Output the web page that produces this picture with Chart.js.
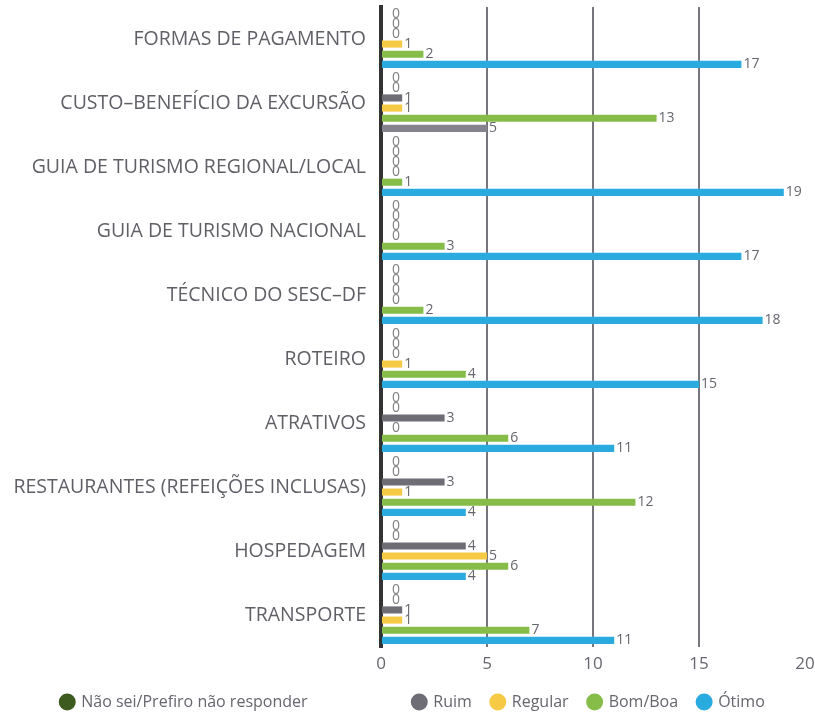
<!DOCTYPE html>
<html>
<head>
<meta charset="utf-8">
<script src="https://cdn.jsdelivr.net/npm/chart.js@4.4.1/dist/chart.umd.min.js"></script>
<style>
  html, body { margin: 0; padding: 0; background: #fff; }
  #wrap { width: 815px; height: 714px; }
</style>
</head>
<body>
<div id="wrap"><canvas id="mychart" width="815" height="714"></canvas></div>
<script>
//. avaliacao da excursao
var categories = [
  'FORMAS DE PAGAMENTO',
  'CUSTO–BENEFÍCIO DA EXCURSÃO',
  'GUIA DE TURISMO REGIONAL/LOCAL',
  'GUIA DE TURISMO NACIONAL',
  'TÉCNICO DO SESC–DF',
  'ROTEIRO',
  'ATRATIVOS',
  'RESTAURANTES (REFEIÇÕES INCLUSAS)',
  'HOSPEDAGEM',
  'TRANSPORTE'
];

var naoSei   = [ 0, 0, 0, 0, 0, 0, 0, 0, 0, 0 ];
var semNome  = [ 0, 0, 0, 0, 0, 0, 0, 0, 0, 0 ];
var ruim     = [ 0, 1, 0, 0, 0, 0, 3, 3, 4, 1 ];
var regular  = [ 1, 1, 0, 0, 0, 1, 0, 1, 5, 1 ];
var bomBoa   = [ 2, 13, 1, 3, 2, 4, 6, 12, 6, 7 ];
var otimo    = [ 17, 5, 19, 17, 18, 15, 11, 4, 4, 11 ];

var xTicks = [ 0, 5, 10, 15, 20 ];

var FONT = '"Open Sans", "Noto Sans", sans-serif';

//. a barra "Ótimo" de custo-benefício sai em cinza
var otimoColors = otimo.map( function( v, i ){
  return ( i == 1 ) ? '#85848e' : '#29abe0';
});

//. rótulos de valor na ponta de cada barra
var valueLabels = {
  id: 'valueLabels',
  afterDatasetsDraw: function( chart ){
    var ctx = chart.ctx;
    ctx.save();
    ctx.font = '14px ' + FONT;
    ctx.textBaseline = 'middle';
    ctx.textAlign = 'left';
    chart.data.datasets.forEach( function( ds, di ){
      var meta = chart.getDatasetMeta( di );
      meta.data.forEach( function( bar, i ){
        var v = ds.data[i];
        ctx.fillStyle = ( v == 0 ) ? '#808080' : '#66666e';
        var x = ( v == 0 ) ? bar.x + 11 : bar.x + 2;
        ctx.fillText( '' + v, x, bar.y );
      });
    });
    ctx.restore();
  }
};

var data = {
  labels: categories,
  datasets: [
    { label: 'Não sei/Prefiro não responder', data: naoSei, backgroundColor: '#3d5a1f' },
    { label: '           ', data: semNome, backgroundColor: 'rgba( 255, 255, 255, 0 )' },
    { label: 'Ruim', data: ruim, backgroundColor: '#6e6d76' },
    { label: 'Regular', data: regular, backgroundColor: '#f6ca45' },
    { label: 'Bom/Boa', data: bomBoa, backgroundColor: '#86bd48' },
    { label: 'Ótimo', data: otimo, backgroundColor: otimoColors }
  ]
};

var options = {
  indexAxis: 'y',
  responsive: false,
  animation: false,
  layout: { padding: { top: 7, left: 11, right: 0, bottom: 0 } },
  datasets: {
    bar: { categoryPercentage: 0.95, barPercentage: 0.7 }
  },
  scales: {
    x: {
      min: 0,
      max: 20,
      afterBuildTicks: function( scale ){
        scale.ticks = xTicks.map( function( v ){ return { value: v }; } );
      },
      afterFit: function( scale ){
        scale.height = 27;
        scale.paddingLeft = 0;
        scale.paddingRight = 10;
      },
      grid: {
        drawTicks: false,
        lineWidth: 2,
        color: function( c ){
          var v = c.tick ? c.tick.value : 0;
          return ( v == 0 || v == 20 ) ? 'rgba( 0, 0, 0, 0 )' : '#77767c';
        }
      },
      border: { display: false },
      ticks: {
        padding: 7,
        color: '#66666e',
        font: { family: FONT, size: 17 }
      }
    },
    y: {
      afterFit: function( scale ){
        scale.width = 370;
        scale.paddingTop = 0;
        scale.paddingBottom = 0;
      },
      grid: { display: false, drawTicks: false },
      border: { display: true, color: '#333333', width: 4 },
      ticks: {
        padding: 15,
        color: '#5f5f66',
        font: { family: FONT, size: 19.5 }
      }
    }
  },
  plugins: {
    legend: {
      position: 'bottom',
      maxHeight: 40,
      labels: {
        usePointStyle: true,
        pointStyle: 'circle',
        boxWidth: 12,
        boxHeight: 12,
        padding: 20,
        color: '#66666e',
        font: { family: FONT, size: 16 }
      }
    },
    tooltip: { enabled: false }
  }
};

var ctx = document.getElementById( 'mychart' );
var chart = new Chart( ctx, {
  type: 'bar',
  data: data,
  options: options,
  plugins: [ valueLabels ]
});
</script>
</body>
</html>
